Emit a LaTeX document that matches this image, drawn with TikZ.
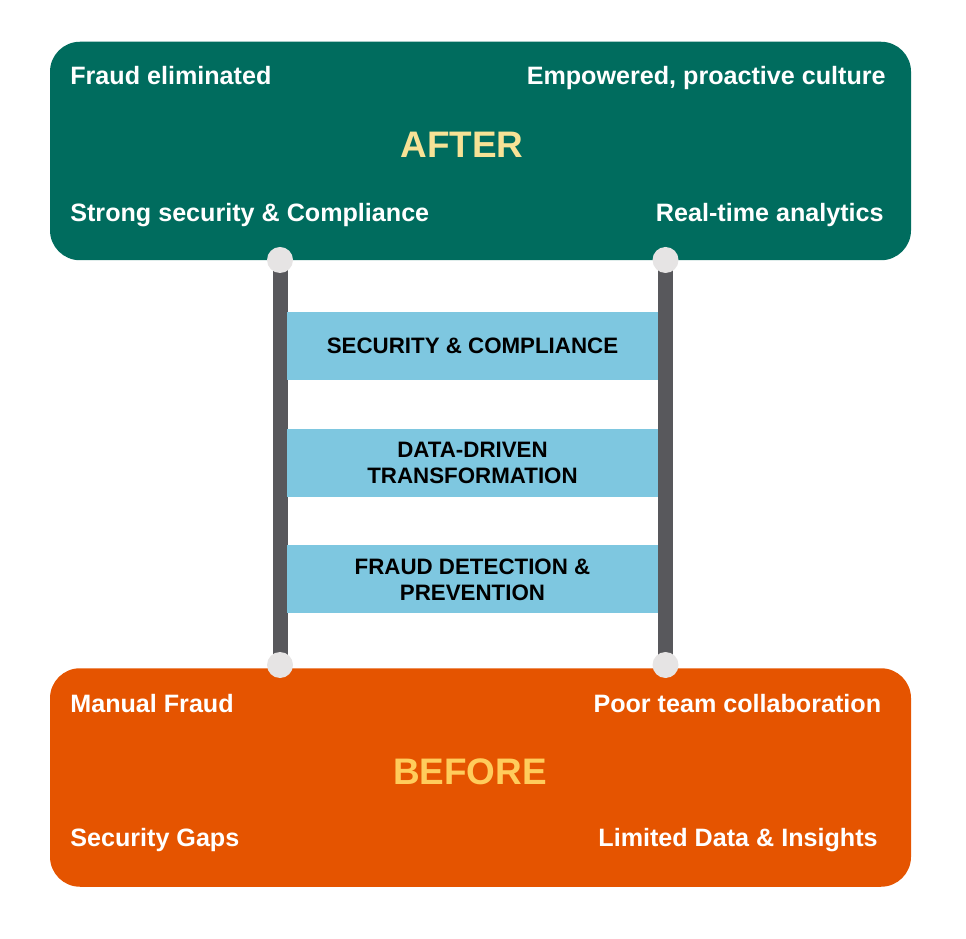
\documentclass[tikz,border=0pt]{standalone}
\usepackage{fontspec}
\setmainfont{Liberation Sans}
\usetikzlibrary{positioning}
\definecolor{tealdark}{RGB}{0,108,94}
\definecolor{orangedeep}{RGB}{229,84,0}
\definecolor{rungblue}{RGB}{126,199,224}
\definecolor{railgray}{RGB}{88,88,92}
\definecolor{knobgray}{RGB}{230,228,228}
\definecolor{afteryellow}{RGB}{247,226,150}
\definecolor{beforeyellow}{RGB}{255,204,92}

\begin{document}
\begin{tikzpicture}[
          stage/.style={rounded corners=0.6cm,inner sep=0pt,
            minimum width=17.22cm,minimum height=4.37cm},
          point/.style={text=white,font=\fontsize{14.3}{16}\selectfont\bfseries,
            inner sep=0pt},
          title/.style={font=\fontsize{21}{24}\selectfont\bfseries,inner sep=0pt},
          rung/.style={fill=rungblue,text=black,align=center,
            font=\fontsize{12.7}{14.8}\selectfont\bfseries,
            minimum width=7.42cm,minimum height=1.36cm,inner sep=0pt},
          rail/.style={draw=railgray,line width=0.3cm},
          knob/.style={circle,fill=knobgray,minimum size=0.52cm,inner sep=0pt}]

        \useasboundingbox (0,0) rectangle (19.32,18.76);

        % after / before panels
        \node[stage,fill=tealdark] (after) at (9.61,15.74) {};
        \node[stage,fill=orangedeep] (before) at (9.61,3.21) {};

        \node[point,anchor=base west] (a1) at (1.4,17.06) {Fraud eliminated};
        \node[point,anchor=base east] (a2) at (17.72,17.06) {Empowered, proactive culture};
        \node[title,text=afteryellow,anchor=base] (atitle) at (9.24,15.6) {AFTER};
        \node[point,anchor=base west] (a3) at (1.4,14.33) {Strong security \& Compliance};
        \node[point,anchor=base east] (a4) at (17.68,14.33) {Real-time analytics};

        \node[point,anchor=base west] (b1) at (1.4,4.51) {Manual Fraud};
        \node[point,anchor=base east] (b2) at (17.63,4.51) {Poor team collaboration};
        \node[title,text=beforeyellow,anchor=base] (btitle) at (9.4,3.08) {BEFORE};
        \node[point,anchor=base west] (b3) at (1.4,1.83) {Security Gaps};
        \node[point,anchor=base east] (b4) at (17.56,1.83) {Limited Data \& Insights};

        % ladder
        \coordinate (topl) at (5.6,13.56);
        \coordinate (topr) at (13.31,13.56);
        \coordinate (botl) at (5.6,5.46);
        \coordinate (botr) at (13.31,5.46);
        \draw[rail] (topl) -- (botl);
        \draw[rail] (topr) -- (botr);
        \node[knob] (k1) at (topl) {};
        \node[knob] (k2) at (topr) {};
        \node[knob] (k3) at (botl) {};
        \node[knob] (k4) at (botr) {};

        \node[rung] (r1) at (9.45,11.84) {SECURITY \& COMPLIANCE};
        \node[rung,below=0.96cm of r1] (r2) {DATA-DRIVEN\\TRANSFORMATION};
        \node[rung,below=0.96cm of r2] (r3) {FRAUD DETECTION \&\\PREVENTION};
      \end{tikzpicture}
\end{document}
